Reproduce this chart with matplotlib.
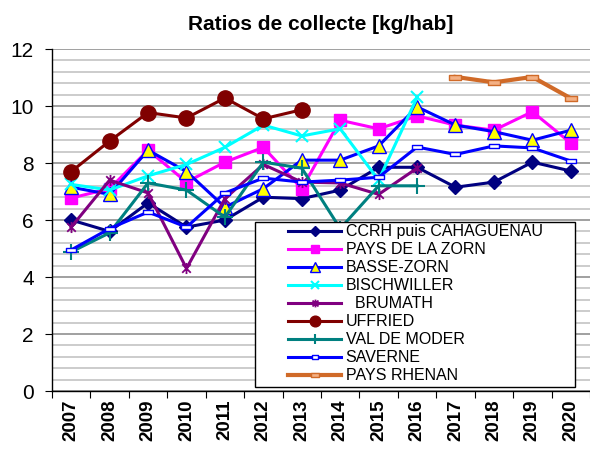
# Ratios de collecte [kg/hab] - courbes par collectivité
import matplotlib.pyplot as plt
import numpy as np
from matplotlib.path import Path
from matplotlib.patches import Rectangle

plt.rcParams['font.family'] = ['Liberation Sans', 'DejaVu Sans']

# Données
annees = ['2007', '2008', '2009', '2010', '2011', '2012', '2013',
          '2014', '2015', '2016', '2017', '2018', '2019', '2020']
ccrh = [6.0, 5.6, 6.6, 5.75, 6.0, 6.8, 6.75, 7.05, 7.85, 7.85, 7.15, 7.33, 8.03, 7.72]
zorn = [6.77, 7.1, 8.45, 7.33, 8.03, 8.55, 7.1, 9.5, 9.2, 9.65, 9.33, 9.15, 9.8, 8.7]
basse_zorn = [7.15, 6.9, 8.45, 7.7, 6.45, 7.1, 8.1, 8.1, 8.6, 9.97, 9.33, 9.1, 8.8, 9.15]
bischwiller = [7.25, 7.05, 7.55, 7.95, 8.55, 9.33, 8.95, 9.2, 7.4, 10.3,
               None, None, None, None]
brumath = [5.75, 7.4, 6.95, 4.3, 6.75, 7.95, 7.33, 7.3, 6.9, 7.82,
           None, None, None, None]
uffried = [7.7, 8.77, 9.77, 9.58, 10.28, 9.55, 9.87,
           None, None, None, None, None, None, None]
val_moder = [4.88, 5.55, 7.3, 7.05, 6.1, 8.03, 7.82, 5.7, 7.2, 7.2,
             None, None, None, None]
saverne = [4.95, 5.7, 6.28, 5.75, 6.95, 7.47, 7.33, 7.4, 7.5, 8.56, 8.3, 8.6, 8.53, 8.07]
rhenan = [None, None, None, None, None, None, None, None, None, None,
          11.02, 10.83, 11.02, 10.27]

x = np.arange(len(annees))

# marqueurs spéciaux
etoile = Path([(-1, -1), (1, 1), (-1, 1), (1, -1), (0, -1.3), (0, 1.3)],
              [Path.MOVETO, Path.LINETO] * 3)
rect = Path([(-1, -0.45), (1, -0.45), (1, 0.45), (-1, 0.45), (-1, -0.45)],
            [Path.MOVETO, Path.LINETO, Path.LINETO, Path.LINETO, Path.CLOSEPOLY])

fig = plt.figure(figsize=(5.9, 4.5), dpi=100)
ax = fig.add_axes([0.0881, 0.1311, 0.9119, 0.76])

series = [
    (ccrh, 'CCRH puis CAHAGUENAU', dict(color='#000080', marker='D', ms=7)),
    (zorn, 'PAYS DE LA ZORN', dict(color='#FF00FF', marker='s', ms=9)),
    (basse_zorn, 'BASSE-ZORN', dict(color='#0000FF', marker='^', ms=10,
                                    mfc='#FFFF00', mec='#0000FF', mew=1)),
    (bischwiller, 'BISCHWILLER', dict(color='#00FFFF', marker='x', ms=9, mew=1.5)),
    (brumath, '  BRUMATH', dict(color='#800080', marker=etoile, ms=8, mew=1.3)),
    (uffried, 'UFFRIED', dict(color='#800000', marker='o', ms=11)),
    (val_moder, 'VAL DE MODER', dict(color='#008080', marker='+', ms=11, mew=1.5)),
    (saverne, 'SAVERNE', dict(color='#0000FF', marker=rect, ms=7,
                              mfc='white', mec='#0000FF', mew=1)),
    (rhenan, 'PAYS RHENAN', dict(color='#D06A28', marker=rect, ms=8, lw=3,
                                 mfc='#F4B084', mec='#D06A28', mew=1)),
]

for valeurs, nom, style in series:
    y = np.array(valeurs, dtype=float)
    kw = dict(lw=2.2)
    kw.update(style)
    ax.plot(x, y, label=nom, zorder=3, **kw)

# axes
ax.set_xlim(-0.5, len(annees) - 0.5)
ax.set_ylim(0, 12)
ax.set_yticks(np.arange(0, 13, 2))
ax.set_yticks(np.arange(0, 12.01, 0.4), minor=True)
ax.grid(axis='y', which='minor', color='#C8C8C8', lw=1.3, zorder=0)
ax.grid(axis='y', which='major', color='#999999', lw=1.3, zorder=0)
ax.set_axisbelow(True)

ax.set_xticks(np.arange(-0.5, len(annees), 1))
ax.set_xticklabels([])
ax.set_xticks(x, minor=True)
ax.set_xticklabels(annees, minor=True, rotation=90, fontsize=13.5, fontweight='bold')
ax.tick_params(axis='x', which='minor', length=0, pad=6)
ax.tick_params(axis='x', which='major', length=5, direction='out')
ax.tick_params(axis='y', which='major', length=5, labelsize=15, pad=8)
ax.tick_params(axis='y', which='minor', length=0)

for s in ['top', 'right']:
    ax.spines[s].set_visible(False)
ax.spines['left'].set_linewidth(1)
ax.spines['bottom'].set_linewidth(1)

ax.set_title('Ratios de collecte [kg/hab]', fontsize=15, fontweight='bold', pad=14)

# légende dans un cadre
cadre = Rectangle((0.377, 0.012), 0.595, 0.482, transform=ax.transAxes,
                  facecolor='white', edgecolor='black', lw=1, zorder=5)
ax.add_patch(cadre)
leg = ax.legend(loc='upper left', bbox_to_anchor=(0.439, 0.488), frameon=False,
                borderpad=0, borderaxespad=0, fontsize=11.5, labelspacing=0.19,
                handlelength=3.3, handletextpad=0.3, markerscale=0.7)
leg.set_zorder(6)

fig.savefig('out.png', dpi=100)
